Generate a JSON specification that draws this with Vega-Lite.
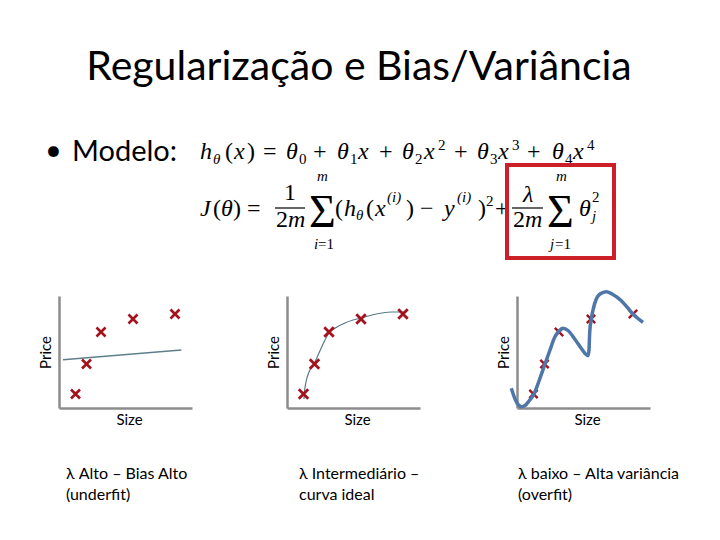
{
  "$schema": "https://vega.github.io/schema/vega-lite/v6.json",
  "padding": 0,
  "background": "white",
  "config": {"view": {"stroke": null}, "font": "Lato"},
  "datasets": {
    "slide": [
      {"role": "title", "t": "Regularização e Bias/Variância", "x": 359, "y": 80},
      {"role": "bullet", "t": "•", "x": 45, "y": 160},
      {"role": "bullet", "t": "Modelo:", "x": 72, "y": 161},
      {"role": "fi", "t": "h", "x": 200, "y": 159},
      {"role": "fsi", "t": "θ", "x": 213, "y": 164},
      {"role": "fu", "t": "(", "x": 225, "y": 159},
      {"role": "fi", "t": "x", "x": 234, "y": 159},
      {"role": "fu", "t": ")", "x": 247, "y": 159},
      {"role": "fu", "t": "=", "x": 263, "y": 159},
      {"role": "fi", "t": "θ", "x": 286, "y": 159},
      {"role": "fsu", "t": "0", "x": 299, "y": 164},
      {"role": "fu", "t": "+", "x": 313, "y": 159},
      {"role": "fi", "t": "θ", "x": 337, "y": 159},
      {"role": "fsu", "t": "1", "x": 350, "y": 164},
      {"role": "fi", "t": "x", "x": 358, "y": 159},
      {"role": "fu", "t": "+", "x": 379, "y": 159},
      {"role": "fi", "t": "θ", "x": 402, "y": 159},
      {"role": "fsu", "t": "2", "x": 415, "y": 164},
      {"role": "fi", "t": "x", "x": 424, "y": 159},
      {"role": "fsu", "t": "2", "x": 438, "y": 150},
      {"role": "fu", "t": "+", "x": 454, "y": 159},
      {"role": "fi", "t": "θ", "x": 477, "y": 159},
      {"role": "fsu", "t": "3", "x": 490, "y": 164},
      {"role": "fi", "t": "x", "x": 498, "y": 159},
      {"role": "fsu", "t": "3", "x": 512, "y": 150},
      {"role": "fu", "t": "+", "x": 527, "y": 159},
      {"role": "fi", "t": "θ", "x": 552, "y": 159},
      {"role": "fsu", "t": "4", "x": 565, "y": 164},
      {"role": "fi", "t": "x", "x": 573, "y": 159},
      {"role": "fsu", "t": "4", "x": 587, "y": 150},
      {"role": "fi", "t": "J", "x": 200, "y": 216},
      {"role": "fu", "t": "(", "x": 213, "y": 216},
      {"role": "fi", "t": "θ", "x": 221, "y": 216},
      {"role": "fu", "t": ")", "x": 233, "y": 216},
      {"role": "fu", "t": "=", "x": 247, "y": 216},
      {"role": "fu", "t": "1", "x": 284, "y": 200},
      {"role": "fu", "t": "2", "x": 276, "y": 227},
      {"role": "fi", "t": "m", "x": 288, "y": 227},
      {"role": "sig", "t": "Σ", "x": 309, "y": 227},
      {"role": "fsi", "t": "m", "x": 317, "y": 181},
      {"role": "fsi", "t": "i", "x": 314, "y": 249},
      {"role": "fsu", "t": "=1", "x": 318, "y": 249},
      {"role": "fu", "t": "(", "x": 335, "y": 216},
      {"role": "fi", "t": "h", "x": 344, "y": 216},
      {"role": "fsi", "t": "θ", "x": 356, "y": 220},
      {"role": "fu", "t": "(", "x": 366, "y": 216},
      {"role": "fi", "t": "x", "x": 375, "y": 216},
      {"role": "fsi", "t": "(i)", "x": 387, "y": 202},
      {"role": "fu", "t": ")", "x": 406, "y": 216},
      {"role": "fu", "t": "−", "x": 420, "y": 216},
      {"role": "fi", "t": "y", "x": 444, "y": 216},
      {"role": "fsi", "t": "(i)", "x": 457, "y": 202},
      {"role": "fu", "t": ")", "x": 478, "y": 216},
      {"role": "fsu", "t": "2", "x": 486, "y": 206},
      {"role": "fu", "t": "+", "x": 495, "y": 216},
      {"role": "fi", "t": "λ", "x": 523, "y": 202},
      {"role": "fu", "t": "2", "x": 513, "y": 227},
      {"role": "fi", "t": "m", "x": 525, "y": 227},
      {"role": "sig", "t": "Σ", "x": 547, "y": 227},
      {"role": "fsi", "t": "m", "x": 556, "y": 181},
      {"role": "fsi", "t": "j", "x": 550, "y": 249},
      {"role": "fsu", "t": "=1", "x": 555, "y": 249},
      {"role": "fi", "t": "θ", "x": 579, "y": 216},
      {"role": "fsu", "t": "2", "x": 592, "y": 202},
      {"role": "fsi", "t": "j", "x": 592, "y": 221}
    ],
    "bars": [{"x": 275, "x2": 305, "y": 208}, {"x": 512, "x2": 543, "y": 208}],
    "box": [{"x": 507, "x2": 614, "y": 165, "y2": 258}],
    "pts": [{"x": 16.5, "y": 14}, {"x": 27.5, "y": 44}, {"x": 42, "y": 76}, {"x": 74, "y": 89}, {"x": 116, "y": 94}],
    "c1": [{"x": 4, "y": 48.3}, {"x": 122.3, "y": 58}],
    "c2": [{"x": 17, "y": 9}, {"x": 17.5, "y": 16}, {"x": 19, "y": 26}, {"x": 22, "y": 36}, {"x": 27, "y": 44}, {"x": 32, "y": 55}, {"x": 37, "y": 66}, {"x": 42, "y": 75}, {"x": 50, "y": 81}, {"x": 58, "y": 85}, {"x": 66, "y": 88}, {"x": 74, "y": 90}, {"x": 85, "y": 93}, {"x": 95, "y": 95}, {"x": 105, "y": 96}, {"x": 117, "y": 96}],
    "c3": [{"x": -5.7, "y": 19.7}, {"x": -2, "y": 9}, {"x": 1.5, "y": 3}, {"x": 4.3, "y": 1.3}, {"x": 8, "y": 2.5}, {"x": 12, "y": 7}, {"x": 17, "y": 14}, {"x": 22, "y": 27}, {"x": 28, "y": 44}, {"x": 33, "y": 58}, {"x": 37.7, "y": 70.7}, {"x": 42, "y": 77}, {"x": 46, "y": 79.7}, {"x": 51, "y": 77.5}, {"x": 57.7, "y": 69}, {"x": 64, "y": 60}, {"x": 69, "y": 53.5}, {"x": 71, "y": 52.3}, {"x": 72, "y": 58}, {"x": 72.7, "y": 75.7}, {"x": 74.3, "y": 89}, {"x": 76.5, "y": 100}, {"x": 79.3, "y": 109}, {"x": 83, "y": 114}, {"x": 89.3, "y": 116.3}, {"x": 95, "y": 114}, {"x": 104.3, "y": 107.3}, {"x": 110, "y": 101}, {"x": 116, "y": 94}, {"x": 121, "y": 89.5}, {"x": 126, "y": 85.7}]
  },
  "spacing": 14,
  "vconcat": [
    {
      "width": 720,
      "height": 270,
      "encoding": {
        "x": {"field": "x", "type": "quantitative", "scale": {"domain": [0, 720], "nice": false, "zero": false}, "axis": null},
        "y": {"field": "y", "type": "quantitative", "scale": {"domain": [0, 270], "nice": false, "zero": false, "reverse": true}, "axis": null}
      },
      "layer": [
        {"data": {"name": "slide"}, "transform": [{"filter": "datum.role === 'title'"}],
         "mark": {"type": "text", "font": "Lato", "fontSize": 41, "align": "center", "baseline": "alphabetic", "color": "#000"},
         "encoding": {"text": {"field": "t"}}},
        {"data": {"name": "slide"}, "transform": [{"filter": "datum.role === 'bullet'"}],
         "mark": {"type": "text", "font": "Lato", "fontSize": 29, "align": "left", "baseline": "alphabetic", "color": "#000"},
         "encoding": {"text": {"field": "t"}}},
        {"data": {"name": "slide"}, "transform": [{"filter": "datum.role === 'fi'"}],
         "mark": {"type": "text", "font": "Liberation Serif", "fontStyle": "italic", "fontSize": 24, "align": "left", "baseline": "alphabetic", "color": "#000"},
         "encoding": {"text": {"field": "t"}}},
        {"data": {"name": "slide"}, "transform": [{"filter": "datum.role === 'fu'"}],
         "mark": {"type": "text", "font": "Liberation Serif", "fontSize": 24, "align": "left", "baseline": "alphabetic", "color": "#000"},
         "encoding": {"text": {"field": "t"}}},
        {"data": {"name": "slide"}, "transform": [{"filter": "datum.role === 'fsi'"}],
         "mark": {"type": "text", "font": "Liberation Serif", "fontStyle": "italic", "fontSize": 15, "align": "left", "baseline": "alphabetic", "color": "#000"},
         "encoding": {"text": {"field": "t"}}},
        {"data": {"name": "slide"}, "transform": [{"filter": "datum.role === 'fsu'"}],
         "mark": {"type": "text", "font": "Liberation Serif", "fontSize": 15, "align": "left", "baseline": "alphabetic", "color": "#000"},
         "encoding": {"text": {"field": "t"}}},
        {"data": {"name": "slide"}, "transform": [{"filter": "datum.role === 'sig'"}],
         "mark": {"type": "text", "font": "Liberation Serif", "fontSize": 46, "align": "left", "baseline": "alphabetic", "color": "#000"},
         "encoding": {"text": {"field": "t"}}},
        {"data": {"name": "bars"}, "mark": {"type": "rule", "color": "#000", "strokeWidth": 1.2},
         "encoding": {"x2": {"field": "x2"}}},
        {"data": {"name": "box"}, "mark": {"type": "rect", "filled": false, "stroke": "#cc1f27", "strokeWidth": 4},
         "encoding": {"x2": {"field": "x2"}, "y2": {"field": "y2"}}}
      ]
    },
    {
      "spacing": 0,
      "hconcat": [
        {"width": 38, "height": 10, "data": {"values": []}, "mark": "point"},
        {
          "width": 133, "height": 112,
          "title": {"text": ["λ Alto – Bias Alto", "(underfit)"], "orient": "bottom", "anchor": "start", "frame": "group", "font": "Lato", "fontSize": 16, "fontWeight": "normal", "color": "#000", "offset": 39, "dx": 7, "lineHeight": 21},
          "encoding": {
            "x": {"field": "x", "type": "quantitative", "scale": {"domain": [0, 133], "nice": false, "zero": false},
                  "axis": {"title": "Size", "titleX": 70, "labels": false, "ticks": false, "grid": false, "domainColor": "#8c8c8c", "domainWidth": 2.5, "titleFont": "Lato", "titleFontSize": 15, "titleFontWeight": "normal", "titleColor": "#000", "titlePadding": 4}},
            "y": {"field": "y", "type": "quantitative", "scale": {"domain": [0, 112], "nice": false, "zero": false},
                  "axis": {"title": "Price", "labels": false, "ticks": false, "grid": false, "domainColor": "#8c8c8c", "domainWidth": 2.5, "titleFont": "Lato", "titleFontSize": 15, "titleFontWeight": "normal", "titleColor": "#000", "titlePadding": 6}}
          },
          "layer": [
            {"data": {"name": "c1"}, "mark": {"type": "line", "color": "#5d7f8a", "strokeWidth": 1.5}, "encoding": {}},
            {"data": {"name": "pts"}, "mark": {"type": "point", "shape": "M-1,-1L1,1M-1,1L1,-1", "filled": false, "stroke": "#a3121d", "strokeWidth": 2.6, "size": 81, "opacity": 1}, "encoding": {}}
          ]
        },
        {"width": 74, "height": 10, "data": {"values": []}, "mark": "point"},
        {
          "width": 133, "height": 112,
          "title": {"text": ["λ Intermediário –", "\u00a0curva ideal"], "orient": "bottom", "anchor": "start", "frame": "group", "font": "Lato", "fontSize": 16, "fontWeight": "normal", "color": "#000", "offset": 39, "dx": 12, "lineHeight": 21},
          "encoding": {
            "x": {"field": "x", "type": "quantitative", "scale": {"domain": [0, 133], "nice": false, "zero": false},
                  "axis": {"title": "Size", "titleX": 70, "labels": false, "ticks": false, "grid": false, "domainColor": "#8c8c8c", "domainWidth": 2.5, "titleFont": "Lato", "titleFontSize": 15, "titleFontWeight": "normal", "titleColor": "#000", "titlePadding": 4}},
            "y": {"field": "y", "type": "quantitative", "scale": {"domain": [0, 112], "nice": false, "zero": false},
                  "axis": {"title": "Price", "labels": false, "ticks": false, "grid": false, "domainColor": "#8c8c8c", "domainWidth": 2.5, "titleFont": "Lato", "titleFontSize": 15, "titleFontWeight": "normal", "titleColor": "#000", "titlePadding": 6}}
          },
          "layer": [
            {"data": {"name": "c2"}, "mark": {"type": "line", "color": "#58798a", "strokeWidth": 1.2, "interpolate": "monotone"}, "encoding": {}},
            {"data": {"name": "pts"}, "mark": {"type": "point", "shape": "M-1,-1L1,1M-1,1L1,-1", "filled": false, "stroke": "#a3121d", "strokeWidth": 2.8, "size": 90, "opacity": 1}, "encoding": {}}
          ]
        },
        {"width": 76, "height": 10, "data": {"values": []}, "mark": "point"},
        {
          "width": 133, "height": 112,
          "title": {"text": ["λ baixo – Alta variância", "(overfit)"], "orient": "bottom", "anchor": "start", "frame": "group", "font": "Lato", "fontSize": 16, "fontWeight": "normal", "color": "#000", "offset": 39, "dx": 1, "lineHeight": 21},
          "encoding": {
            "x": {"field": "x", "type": "quantitative", "scale": {"domain": [0, 133], "nice": false, "zero": false},
                  "axis": {"title": "Size", "titleX": 70, "labels": false, "ticks": false, "grid": false, "domainColor": "#8c8c8c", "domainWidth": 2.5, "titleFont": "Lato", "titleFontSize": 15, "titleFontWeight": "normal", "titleColor": "#000", "titlePadding": 4}},
            "y": {"field": "y", "type": "quantitative", "scale": {"domain": [0, 112], "nice": false, "zero": false},
                  "axis": {"title": "Price", "labels": false, "ticks": false, "grid": false, "domainColor": "#8c8c8c", "domainWidth": 2.5, "titleFont": "Lato", "titleFontSize": 15, "titleFontWeight": "normal", "titleColor": "#000", "titlePadding": 6}}
          },
          "layer": [
            {"data": {"name": "pts"}, "mark": {"type": "point", "shape": "M-1,-1L1,1M-1,1L1,-1", "filled": false, "stroke": "#a3121d", "strokeWidth": 2.4, "size": 70, "opacity": 1}, "encoding": {}},
            {"data": {"name": "c3"}, "mark": {"type": "line", "color": "#4e76a8", "strokeWidth": 3.5, "interpolate": "monotone"}, "encoding": {}}
          ]
        }
      ]
    }
  ]
}
